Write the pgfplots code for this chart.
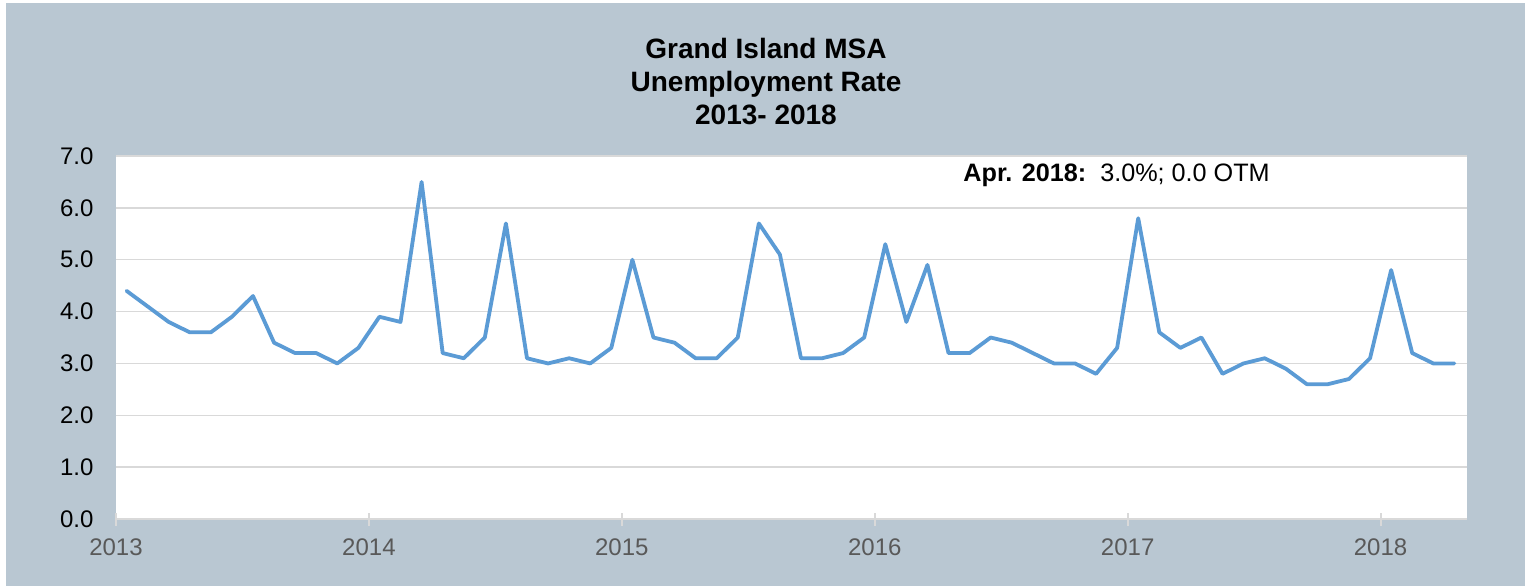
\documentclass[border=0pt]{standalone}
\usepackage{pgfplots}
\pgfplotsset{compat=1.18}
\usepackage{fontspec}
\setmainfont{Liberation Sans}
\definecolor{bgc}{RGB}{185,199,210}
\definecolor{linec}{RGB}{91,155,213}
\definecolor{gridc}{RGB}{217,217,217}
\definecolor{xlab}{RGB}{89,89,89}
\pgfplotstableread{
x y
0.5 4.4
1.5 4.1
2.5 3.8
3.5 3.6
4.5 3.6
5.5 3.9
6.5 4.3
7.5 3.4
8.5 3.2
9.5 3.2
10.5 3.0
11.5 3.3
12.5 3.9
13.5 3.8
14.5 6.5
15.5 3.2
16.5 3.1
17.5 3.5
18.5 5.7
19.5 3.1
20.5 3.0
21.5 3.1
22.5 3.0
23.5 3.3
24.5 5.0
25.5 3.5
26.5 3.4
27.5 3.1
28.5 3.1
29.5 3.5
30.5 5.7
31.5 5.1
32.5 3.1
33.5 3.1
34.5 3.2
35.5 3.5
36.5 5.3
37.5 3.8
38.5 4.9
39.5 3.2
40.5 3.2
41.5 3.5
42.5 3.4
43.5 3.2
44.5 3.0
45.5 3.0
46.5 2.8
47.5 3.3
48.5 5.8
49.5 3.6
50.5 3.3
51.5 3.5
52.5 2.8
53.5 3.0
54.5 3.1
55.5 2.9
56.5 2.6
57.5 2.6
58.5 2.7
59.5 3.1
60.5 4.8
61.5 3.2
62.5 3.0
63.5 3.0
}\datatable
\begin{document}
\begin{tikzpicture}
\useasboundingbox (0pt,0pt) rectangle (762.5pt,293pt);
\fill[white] (0pt,0pt) rectangle (762.5pt,293pt);
\fill[bgc] (3pt,0pt) rectangle (762.5pt,291.5pt);
\node[align=center, font=\fontsize{14}{16.5}\selectfont\bfseries] at (383pt,252pt) {Grand Island MSA\\Unemployment Rate\\2013- 2018};
\begin{axis}[
  at={(58pt,33.5pt)}, anchor=south west,
  scale only axis, width=675.5pt, height=181.5pt,
  xmin=0, xmax=64.1, ymin=0, ymax=7,
  axis background/.style={fill=white},
  separate axis lines,
  axis x line*=bottom, axis y line*=left,
  x axis line style={gridc, line width=1pt},
  y axis line style={draw=none},
  xtick={0,12,24,36,48,60},
  xticklabels={2013,2014,2015,2016,2017,2018},
  xtick style={gridc, line width=1pt},
  tick align=center, major tick length=6.5pt,
  ytick={0,1,...,7},
  ytick style={draw=none},
  ymajorgrids,
  grid style={gridc, line width=0.75pt},
  /pgf/number format/assume math mode=true,
  yticklabel style={font=\fontsize{12}{14}\selectfont, text=black, xshift=-4.5pt, /pgf/number format/.cd, fixed, fixed zerofill, precision=1},
  xticklabel style={font=\fontsize{12}{14}\selectfont, text=xlab, yshift=-3pt},
  clip=false,
]
\addplot[linec, line width=1.9pt, line join=round, line cap=round] table[x=x,y=y] {\datatable};
\node[anchor=west, inner sep=0pt, font=\fontsize{12.6}{14}\selectfont] at (rel axis cs:0.627,0.948) {\textbf{Apr. 2018:}\ \ 3.0\%; 0.0 OTM};
\end{axis}
\end{tikzpicture}
\end{document}
